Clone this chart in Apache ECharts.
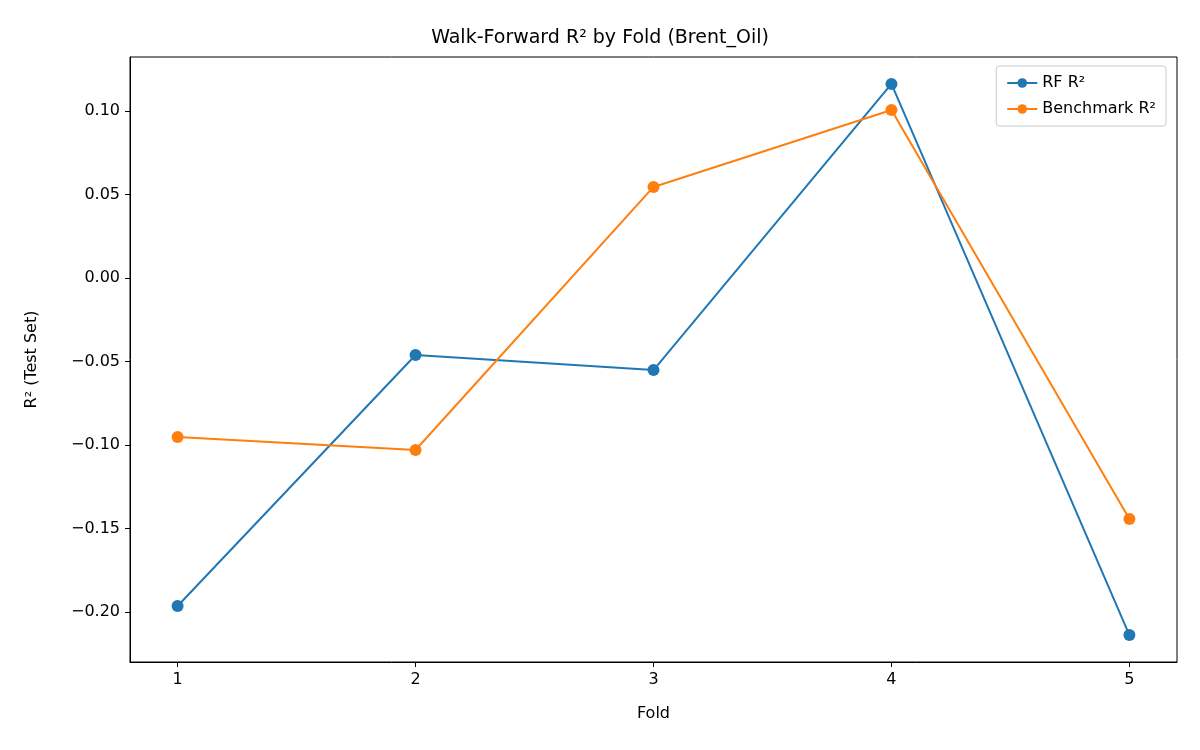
<!DOCTYPE html>
<html><head><meta charset="utf-8">
<script src="https://cdn.jsdelivr.net/npm/echarts@6/dist/echarts.min.js"></script>
<style>body{margin:0}#c{width:1200px;height:750px}</style></head>
<body><div id="c"></div>
<script>
const folds = [1, 2, 3, 4, 5];
const rfR2 = [-0.1964, -0.0461, -0.0551, 0.1162, -0.2138];
const benchR2 = [-0.0952, -0.1030, 0.0545, 0.1006, -0.1443];
const yTicks = [-0.20, -0.15, -0.10, -0.05, 0.00, 0.05, 0.10];
const font = 'DejaVu Sans';
const chart = echarts.init(document.getElementById('c'));
chart.setOption({
  animation: false,
  textStyle: {fontFamily: font},
  title: {text: 'Walk-Forward R² by Fold (Brent_Oil)', left: 'center', top: 24,
    textStyle: {fontFamily: font, fontSize: 19, fontWeight: 'normal', color: '#000'}},
  grid: {left: 130, right: 23, top: 57, bottom: 88, show: true, borderColor: '#000', borderWidth: 1},
  legend: {top: 66, right: 34, orient: 'vertical', itemGap: 10, itemWidth: 30, itemHeight: 12,
    backgroundColor: '#fff', borderColor: '#ccc', borderWidth: 1, borderRadius: 3, padding: [9, 10],
    textStyle: {fontFamily: font, fontSize: 16, color: '#000'},
    data: ['RF R²', 'Benchmark R²']},
  xAxis: {type: 'value', min: 0.8, max: 5.2, name: 'Fold', nameLocation: 'middle', nameGap: 44,
    nameTextStyle: {fontSize: 16, color: '#000'},
    splitLine: {show: false},
    axisLine: {onZero: false, lineStyle: {color: '#000'}},
    axisTick: {customValues: folds, length: 5, lineStyle: {color: '#000'}},
    axisLabel: {customValues: folds, fontSize: 16, color: '#000', margin: 10}},
  yAxis: {type: 'value', min: -0.2299, max: 0.1323, name: 'R² (Test Set)', nameLocation: 'middle', nameGap: 90,
    nameTextStyle: {fontSize: 16, color: '#000'},
    splitLine: {show: false},
    axisLine: {show: true, onZero: false, lineStyle: {color: '#000'}},
    axisTick: {show: true, customValues: yTicks, length: 5, lineStyle: {color: '#000'}},
    axisLabel: {customValues: yTicks, fontSize: 16, color: '#000', margin: 10,
      formatter: v => (v < 0 ? '\u2212' : '') + Math.abs(v).toFixed(2)}},
  series: [
    {name: 'RF R²', type: 'line', data: folds.map((f, i) => [f, rfR2[i]]),
     symbol: 'circle', symbolSize: 12, color: '#1f77b4', lineStyle: {width: 2}},
    {name: 'Benchmark R²', type: 'line', data: folds.map((f, i) => [f, benchR2[i]]),
     symbol: 'circle', symbolSize: 12, color: '#ff7f0e', lineStyle: {width: 2}}
  ]
});
</script></body></html>
